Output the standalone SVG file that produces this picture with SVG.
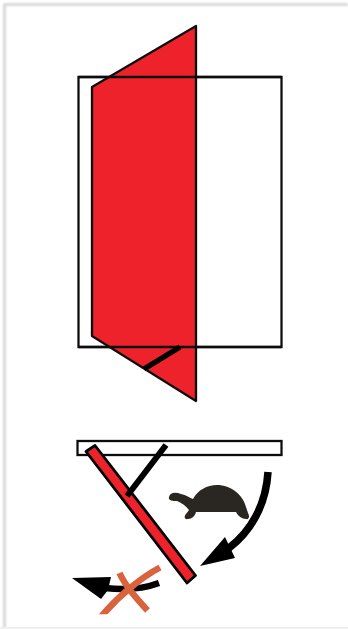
<svg xmlns="http://www.w3.org/2000/svg" width="348" height="629" viewBox="0 0 348 629">
  <defs>
    <filter id="soft" x="-5%" y="-5%" width="110%" height="110%">
      <feGaussianBlur stdDeviation="0.45"/>
    </filter>
    <filter id="edge" x="-5%" y="-5%" width="110%" height="110%">
      <feGaussianBlur stdDeviation="0.9"/>
    </filter>
    <clipPath id="crop-cross"><rect x="60" y="550" width="120" height="64.300"/></clipPath>
  </defs>
  <style>
    .outline { fill: none; stroke: #111; stroke-width: 2.300; }
    .red { fill: #ee2329; stroke: #111; stroke-width: 2.300; stroke-linejoin: round; }
    .bar { fill: #ee2329; stroke: #000; stroke-width: 2.800; stroke-linejoin: round; }
    .thick { fill: none; stroke: #000; stroke-linecap: butt; }
    .cross { fill: none; stroke: #d8643c; stroke-width: 6.500; stroke-linecap: butt; }
  </style>
  <rect width="348" height="629" fill="#ffffff"/>
  <path d="M4.500 629V4.500H348" fill="none" stroke="#c8c8c8" stroke-width="2" filter="url(#edge)"/>
  <path d="M0 628H348" fill="none" stroke="#f0f0f0" stroke-width="2"/>
  <g filter="url(#soft)">
    <g id="front-view">
      <rect id="frame-front" class="outline" x="78.500" y="77" width="203" height="270"/>
      <polygon id="door-front" class="red" points="196,26 92,87 92,336 196,401"/>
      <path class="outline" d="M78.500 77H281.500M78.500 347H281.500"/>
      <path id="stay-front" class="thick" stroke-width="5.500" d="M144 369L180 347"/>
    </g>
    <g id="plan-view">
      <rect id="frame-plan" class="outline" x="77.500" y="441" width="204" height="14"/>
      <polygon id="door-plan" class="bar" points="86,451.500 95,445.500 195.500,575.500 187,583"/>
      <path id="stay-plan" class="thick" stroke-width="6" d="M166 445L127 496"/>
    </g>
    <g id="turtle">
      <path fill="#2b2620" d="M169 497C170 492 176 492 181 494C186 495 190 498 193 499C198 490 207 485 217 485C231 485 243 495 246 507L248 513C250 516 249 520 246 519C242 519 238 516 236 512L196 512C195 516 192 519 188 519C184 520 184 516 186 514L189 510C186 506 182 503 177 501C172 501 168 500 169 497Z"/>
    </g>
    <g id="connectors">
      <path class="thick" stroke-width="7.500" d="M268 472C266 505 251 531 229 548"/>
      <polygon id="arrowhead-right" points="225,537 200,566 235,558" fill="#000"/>
      <path class="thick" stroke-width="6.500" d="M159 583C140 590 122 590 105 588"/>
      <polygon id="arrowhead-left" points="72,578 111,577 108,590 101,599" fill="#000"/>
    </g>
    <g id="cross">
      <path class="cross" clip-path="url(#crop-cross)" d="M160 567.500C142 577 118 596 100 618"/>
      <path class="cross" d="M119.500 573C126 587 137 599 147.500 610.500"/>
    </g>
  </g>
</svg>
